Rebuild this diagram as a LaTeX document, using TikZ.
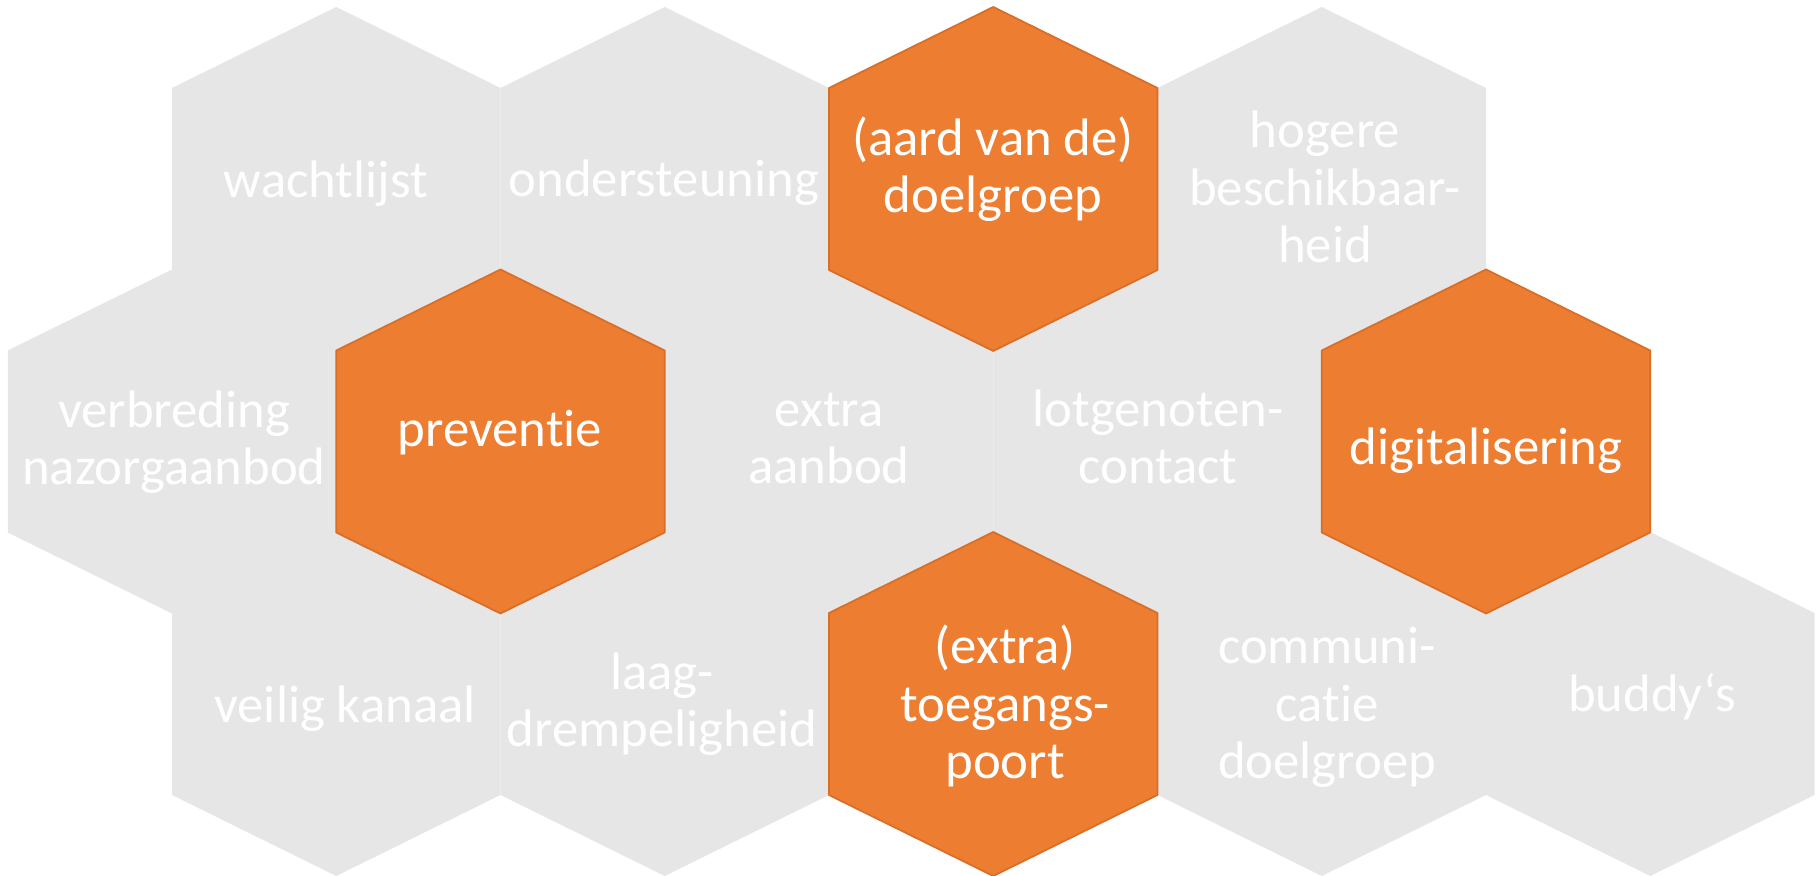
\documentclass[tikz,border=0pt]{standalone}
\usepackage{fontspec}
\setmainfont{Carlito}[Ligatures={NoCommon}]
\usepackage{tikz}

\definecolor{hexgrey}{HTML}{E6E6E6}
\definecolor{hexorange}{HTML}{ED7D31}
\definecolor{hexrim}{HTML}{D96E28}

\tikzset{
  greycell/.style={fill=hexgrey},
  orangecell/.style={fill=hexorange, draw=hexrim, line width=0.5pt, line join=round},
  celltext/.style={text=white, align=center, anchor=base, inner sep=0pt,
    font=\fontsize{15pt}{16.4pt}\selectfont}
}

\begin{document}
\begin{tikzpicture}[x=0.01cm,y=0.01cm]
        \useasboundingbox (0,0) rectangle (1818,876);

        % grey cells
        \foreach \cx/\cy in {336.25/697, 664.75/697, 1321.75/697,
                             172/434.5, 829/434.5, 1157.5/434.5,
                             336.25/172, 664.75/172, 1321.75/172, 1650.25/172}
          \fill[greycell] (\cx,\cy) ++(0,172) -- ++(164.25,-81) -- ++(0,-182)
            -- ++(-164.25,-81) -- ++(-164.25,81) -- ++(0,182) -- cycle;

        % orange cells
        \foreach \cx/\cy in {993.25/697, 500.5/434.5, 1486/434.5, 993.25/172}
          \filldraw[orangecell] (\cx,\cy) ++(0,172) -- ++(164.25,-81) -- ++(0,-182)
            -- ++(-164.25,-81) -- ++(-164.25,81) -- ++(0,182) -- cycle;

        % texts (base = last line)
        \node[celltext] (wachtlijst) at (326,678) {wachtlijst};
        \node[celltext] (ondersteuning) at (664,679) {ondersteuning};
        \node[celltext] (doelgroep) at (993,663) {(aard van de)\\doelgroep};
        \node[celltext] (beschikbaar) at (1325,613) {hogere\\beschikbaar-\\heid};

        \node[celltext] (nazorg) at (174,391) {verbreding\\nazorgaanbod};
        \node[celltext] (preventie) at (500,429) {preventie};
        \node[celltext] (aanbod) at (829,392) {extra\\aanbod};
        \node[celltext] (lotgenoten) at (1158,392) {lotgenoten-\\contact};
        \node[celltext] (digitaal) at (1486,411) {digitalisering};

        \node[celltext] (kanaal) at (345,153) {veilig kanaal};
        \node[celltext] (drempel) at (662,129) {laag-\\drempeligheid};
        \node[celltext] (toegang) at (1005,97) {(extra)\\toegangs-\\poort};
        \node[celltext] (communicatie) at (1327,97) {communi-\\catie\\doelgroep};
        \node[celltext] (buddys) at (1652,164) {buddy‘s};
    \end{tikzpicture}
\end{document}
